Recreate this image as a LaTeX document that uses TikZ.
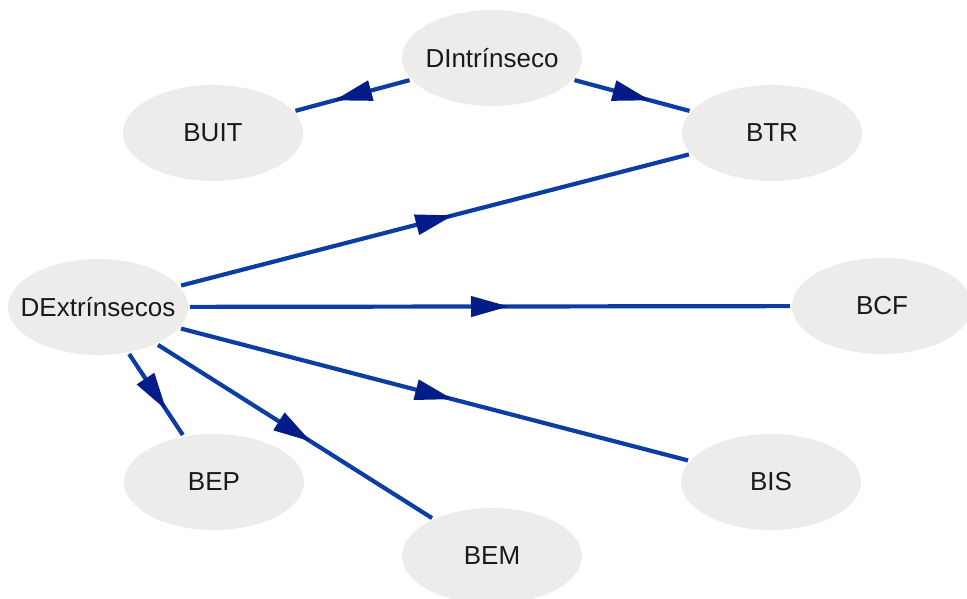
\documentclass[tikz,border=0pt]{standalone}
\usepackage{fontspec}
\setmainfont{Liberation Sans}
\usetikzlibrary{shapes.geometric,arrows.meta,decorations.markings}
\definecolor{nodefill}{HTML}{ECEDEB}
\definecolor{edgeblue}{HTML}{0B3DA2}
\definecolor{tipblue}{HTML}{041C88}
\tikzset{
  % fixed-size ellipse; the name is set as a centred label so it never resizes the shape
  state/.style={ellipse, fill=nodefill, minimum width=180pt, minimum height=96pt,
    inner sep=0pt, outer sep=2pt,
    label={[font=\fontsize{26}{30}\selectfont, text=black!90]center:#1}},
  flow/.style={draw=edgeblue, line width=4.2pt,
    postaction={decorate, decoration={markings,
      mark=at position 0.5 with {\arrow[xshift=19pt, tipblue]{Triangle[length=38pt,width=20pt]}}}}}
}
\begin{document}
\begin{tikzpicture}[x=1pt, y=-1pt]
  \useasboundingbox (0,0) rectangle (967,599);
  \node[state=DIntrínseco] (din) at (492,58) {};
  \node[state=BUIT] (buit) at (213,133) {};
  \node[state=BTR] (btr) at (772,133) {};
  \node[state=DExtrínsecos] (dex) at (98,307) {};
  \node[state=BCF] (bcf) at (882,306) {};
  \node[state=BEP] (bep) at (214,482) {};
  \node[state=BIS] (bis) at (771,482) {};
  \node[state=BEM] (bem) at (492,556) {};

  \draw[flow] (din) -- (buit);
  \draw[flow] (din) -- (btr);
  \draw[flow] (dex) -- (btr);
  \draw[flow] (dex) -- (bcf);
  \draw[flow] (dex) -- (bis);
  \draw[flow] (dex) -- (bem);
  \draw[flow] (dex) -- (bep);
\end{tikzpicture}
\end{document}
